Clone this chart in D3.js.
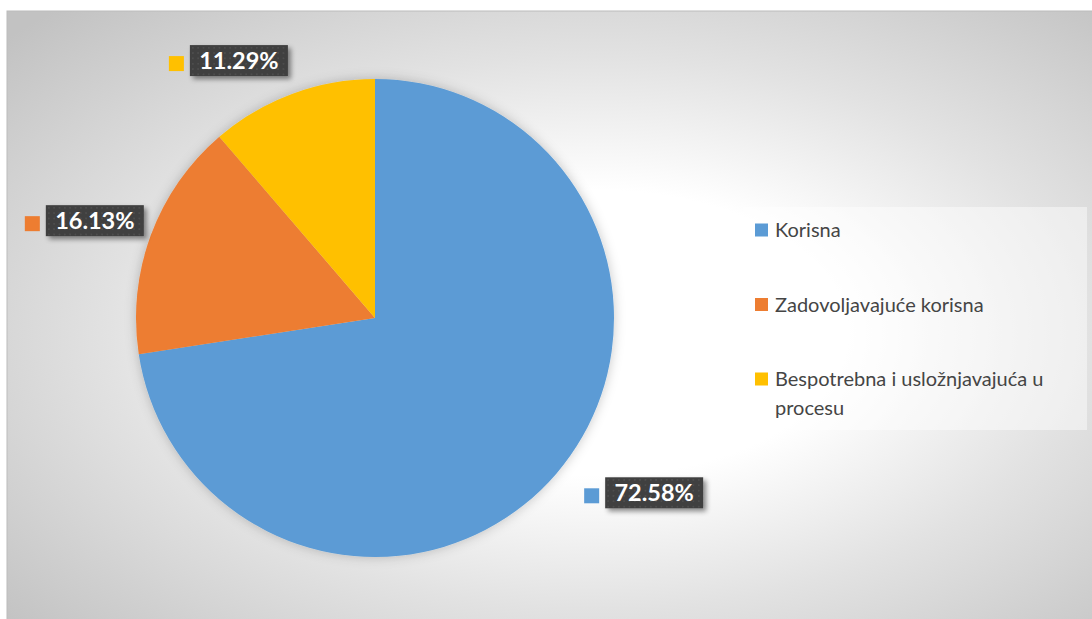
<!DOCTYPE html>
<html>
<head>
<meta charset="utf-8">
<script src="https://cdn.jsdelivr.net/npm/d3@7"></script>
<style>
  html, body { margin: 0; padding: 0; background: #fff; }
  svg { display: block; }
</style>
</head>
<body>
<script>
// ---------- data
var categories = ["Korisna", "Zadovoljavajuće korisna", "Bespotrebna i usložnjavajuća u procesu"];
var shares = [72.58, 16.13, 11.29];
var percentLabels = ["72.58%", "16.13%", "11.29%"];
var colors = ["#5b9bd5", "#ed7d31", "#ffc000"];

// best-fit label nudges (Excel moves labels a bit sideways)
var labelNudge = [[27, -4], [8, -2], [-36, 0]];

// ---------- sizes
var w = 1092, h = 619;
var cx = 375, cy = 318, r = 239;

var svg = d3.select("body").append("svg")
  .attr("width", w)
  .attr("height", h);

var defs = svg.append("defs");

// background gradient
var grad = defs.append("radialGradient")
  .attr("id", "bg")
  .attr("cx", 0.54).attr("cy", 0.52).attr("r", 0.72);
grad.append("stop").attr("offset", "0%").attr("stop-color", "#ffffff");
grad.append("stop").attr("offset", "32%").attr("stop-color", "#ffffff");
grad.append("stop").attr("offset", "62%").attr("stop-color", "#e2e2e2");
grad.append("stop").attr("offset", "100%").attr("stop-color", "#c2c2c2");

// dotted fill of the label boxes
var pat = defs.append("pattern")
  .attr("id", "dots")
  .attr("patternUnits", "userSpaceOnUse")
  .attr("width", 5.33).attr("height", 5.33);
pat.append("rect").attr("width", 5.33).attr("height", 5.33).attr("fill", "#3f3f3f");
pat.append("rect").attr("x", 2).attr("y", 2).attr("width", 1.3).attr("height", 1.3).attr("fill", "#595959");

var sh = defs.append("filter").attr("id", "boxShadow")
  .attr("x", "-20%").attr("y", "-30%").attr("width", "150%").attr("height", "180%");
sh.append("feDropShadow")
  .attr("dx", 3).attr("dy", 3).attr("stdDeviation", 2.5)
  .attr("flood-color", "#000").attr("flood-opacity", 0.45);

var ps = defs.append("filter").attr("id", "pieShadow")
  .attr("x", "-20%").attr("y", "-20%").attr("width", "140%").attr("height", "140%");
ps.append("feDropShadow")
  .attr("dx", 0).attr("dy", 0).attr("stdDeviation", 6)
  .attr("flood-color", "#000").attr("flood-opacity", 0.22);

// chart area
svg.append("rect")
  .attr("x", 7).attr("y", 11)
  .attr("width", w).attr("height", h)
  .attr("fill", "url(#bg)")
  .attr("stroke", "#bcbcbc")
  .attr("stroke-width", 1);

// ---------- pie
var pie = d3.pie().sort(null).value(function(d) { return d; });
var arcs = pie(shares);

var arc = d3.arc().innerRadius(0).outerRadius(r);

var g = svg.append("g").attr("transform", "translate(" + cx + "," + cy + ")");

g.append("g")
  .attr("filter", "url(#pieShadow)")
  .selectAll("path")
  .data(arcs)
  .enter()
  .append("path")
  .attr("d", arc)
  .attr("fill", function(d, i) { return colors[i]; });

// ---------- data labels
var boxW = 98, boxH = 31, keySize = 15, keyGap = 6;
var fullW = keySize + keyGap + boxW;
var labelArc = d3.arc().innerRadius(r + 20).outerRadius(r + 20);

var labels = g.selectAll("g.lbl")
  .data(arcs)
  .enter()
  .append("g")
  .attr("class", "lbl")
  .attr("transform", function(d, i) {
    var p = labelArc.centroid(d);
    var a = (d.startAngle + d.endAngle) / 2;
    var x = p[0] + Math.sin(a) * fullW / 2 + labelNudge[i][0];
    var y = p[1] - Math.cos(a) * boxH / 2 + labelNudge[i][1];
    return "translate(" + (x - fullW / 2) + "," + (y - boxH / 2) + ")";
  });

labels.append("rect")
  .attr("x", 0)
  .attr("y", boxH / 2 - keySize / 2 + 3)
  .attr("width", keySize).attr("height", keySize)
  .attr("fill", function(d, i) { return colors[i]; });

labels.append("rect")
  .attr("x", keySize + keyGap)
  .attr("width", boxW).attr("height", boxH)
  .attr("fill", "url(#dots)")
  .attr("filter", "url(#boxShadow)");

labels.append("text")
  .attr("x", keySize + keyGap + boxW / 2)
  .attr("y", boxH / 2 + 8.5)
  .attr("text-anchor", "middle")
  .attr("font-family", "Lato, 'Open Sans', sans-serif")
  .attr("font-weight", "bold")
  .attr("font-size", "23.5px")
  .attr("fill", "#fff")
  .text(function(d, i) { return percentLabels[i]; });

// ---------- legend
var legX = 743, legY = 207, legW = 344, legH = 223;
var rowY = d3.scalePoint().domain(d3.range(categories.length)).range([230, 379]);

svg.append("rect")
  .attr("x", legX).attr("y", legY)
  .attr("width", legW).attr("height", legH)
  .attr("fill", "#ffffff")
  .attr("fill-opacity", 0.45);

var leg = svg.selectAll("g.leg")
  .data(categories)
  .enter()
  .append("g")
  .attr("class", "leg")
  .attr("transform", function(d, i) { return "translate(" + (legX + 12) + "," + rowY(i) + ")"; });

leg.append("rect")
  .attr("y", -6.5)
  .attr("width", 13).attr("height", 13)
  .attr("fill", function(d, i) { return colors[i]; });

leg.append("text")
  .attr("x", 20)
  .attr("y", 7)
  .attr("font-family", "Lato, 'Open Sans', sans-serif")
  .attr("font-size", "20px")
  .attr("fill", "#454545")
  .each(function(d) {
    // simple word wrap
    var t = d3.select(this), words = d.split(" "), line = [];
    var ts = t.append("tspan").attr("x", 20).attr("dy", 0);
    words.forEach(function(wd) {
      line.push(wd);
      ts.text(line.join(" "));
      if (ts.node().getComputedTextLength() > 305 && line.length > 1) {
        line.pop();
        ts.text(line.join(" "));
        line = [wd];
        ts = t.append("tspan").attr("x", 20).attr("dy", 29).text(wd);
      }
    });
  });
</script>
</body>
</html>
